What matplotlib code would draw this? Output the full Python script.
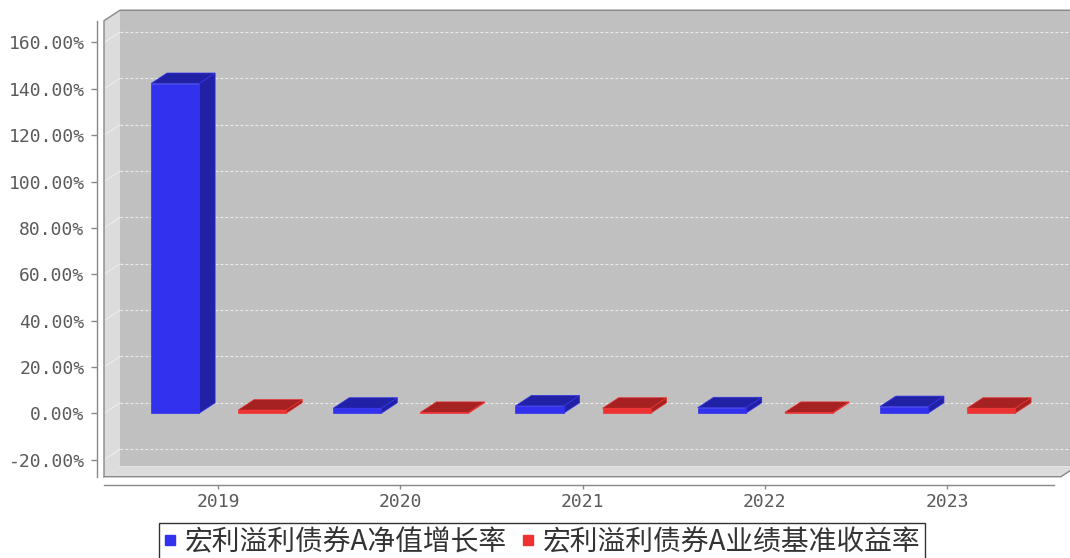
import matplotlib
matplotlib.use("Agg")
import matplotlib.pyplot as plt
from matplotlib.patches import Polygon
from matplotlib.lines import Line2D

# ---------------------------------------------------------------------------
# Data
# ---------------------------------------------------------------------------
years        = ["2019", "2020", "2021", "2022", "2023"]
nav_growth   = [142.3, 2.2, 3.2, 2.4, 2.9]     # 净值增长率 (%)
benchmark    = [1.4, 0.4, 2.2, 0.4, 2.2]       # 业绩基准收益率 (%)
series_names = ["宏利溢利债券A净值增长率", "宏利溢利债券A业绩基准收益率"]
y_ticks      = [-20, 0, 20, 40, 60, 80, 100, 120, 140, 160]

# ---------------------------------------------------------------------------
# Layout / style
# ---------------------------------------------------------------------------
FIG_W, FIG_H = 1070, 558
DPI          = 100
DEPTH_X      = 16      # px, 3D depth offset
DEPTH_Y      = 10.5
X_LIM        = (-0.626, 4.626)
Y_LIM        = (-27.35, 169.4)
BAR_W        = 0.264
BAR_OFFSETS  = [-0.368, 0.110]

BLUE_FRONT, BLUE_DARK = "#3232ee", "#2121a6"
RED_FRONT,  RED_DARK  = "#ee3232", "#a62121"
PANEL    = "#c0c0c0"
WALL     = "#dcdcdc"
OUTLINE  = "#888888"
TEXT_COL = "#5a5a5a"

fig = plt.figure(figsize=(FIG_W / DPI, FIG_H / DPI), dpi=DPI)
ax_l, ax_b, ax_w, ax_h = 104, 81.3, 957, 456
ax = fig.add_axes([ax_l / FIG_W, ax_b / FIG_H, ax_w / FIG_W, ax_h / FIG_H])
ax.set_xlim(*X_LIM)
ax.set_ylim(*Y_LIM)
ax.set_facecolor("none")

x0, x1 = X_LIM
y0, y1 = Y_LIM
dx = DEPTH_X * (x1 - x0) / ax_w
dy = DEPTH_Y * (y1 - y0) / ax_h


def poly(pts, fc, ec="none", lw=0.0, z=1):
    p = Polygon(pts, closed=True, facecolor=fc, edgecolor=ec, linewidth=lw,
                zorder=z, clip_on=False)
    ax.add_patch(p)


# back panel, wall, floor
poly([(x0 + dx, y0 + dy), (x1 + dx, y0 + dy), (x1 + dx, y1 + dy), (x0 + dx, y1 + dy)], PANEL, z=0)
poly([(x0, y0), (x0, y1), (x0 + dx, y1 + dy), (x0 + dx, y0 + dy)], WALL, z=1)
poly([(x0, y0), (x1, y0), (x1 + dx, y0 + dy), (x0 + dx, y0 + dy)], WALL, z=1)

# grid lines on the back wall and their trace on the side wall
for v in y_ticks:
    ax.plot([x0 + dx, x1 + dx], [v + dy, v + dy], color="#ececec", lw=0.8,
            ls=(0, (2.5, 2)), zorder=0.5, clip_on=False)
    ax.plot([x0, x0 + dx], [v, v + dy], color="#f2f2f2", lw=0.6,
            zorder=1.2, clip_on=False)

# outline of the box
ax.plot([x0, x0, x0 + dx, x1 + dx], [y0, y1, y1 + dy, y1 + dy],
        color=OUTLINE, lw=1.0, zorder=2, clip_on=False)
ax.plot([x0, x1, x1 + dx], [y0, y0, y0 + dy],
        color=OUTLINE, lw=1.0, zorder=2, clip_on=False)


def bar3d(left, value, front, dark):
    right = left + BAR_W
    edge = dict(ec=front, lw=0.5)
    poly([(right, 0), (right, value), (right + dx, value + dy), (right + dx, dy)], dark, z=3, **edge)
    poly([(left, value), (right, value), (right + dx, value + dy), (left + dx, value + dy)], dark, z=3, **edge)
    poly([(left, 0), (right, 0), (right, value), (left, value)], front, z=4, ec=front, lw=0.5)


for i in range(len(years)):
    bar3d(i + BAR_OFFSETS[0], nav_growth[i], BLUE_FRONT, BLUE_DARK)
    bar3d(i + BAR_OFFSETS[1], benchmark[i], RED_FRONT, RED_DARK)

# axes
ax.set_xticks(range(len(years)), years)
ax.set_yticks(y_ticks, [f"{v:.2f}%" for v in y_ticks])
for side in ("top", "right"):
    ax.spines[side].set_visible(False)
ax.spines["left"].set_position(("outward", 5))
ax.spines["bottom"].set_position(("outward", 6))
ax.spines["bottom"].set_bounds(x0, 4.59)
for side in ("left", "bottom"):
    ax.spines[side].set_color(OUTLINE)
    ax.spines[side].set_linewidth(1.0)
ax.tick_params(direction="out", width=1, color=OUTLINE,
               labelcolor=TEXT_COL, labelsize=13)
ax.tick_params(axis="y", length=4, pad=5)
ax.tick_params(axis="x", length=3, pad=3)
for lbl in ax.get_xticklabels() + ax.get_yticklabels():
    lbl.set_fontfamily("DejaVu Sans Mono")

# legend
handles = [
    Line2D([], [], marker="s", ls="none", markersize=7.5, color=BLUE_FRONT),
    Line2D([], [], marker="s", ls="none", markersize=7.5, color=RED_FRONT),
]
leg = fig.legend(handles, series_names, loc="upper center",
                 bbox_to_anchor=(541.8 / FIG_W, 1 - 522.7 / FIG_H), ncol=2,
                 frameon=True, fancybox=False, edgecolor="black",
                 prop={"family": ["Noto Sans CJK SC", "DejaVu Sans"], "size": 20},
                 handlelength=0.5, handletextpad=0.3, columnspacing=0.5,
                 borderpad=0.15, borderaxespad=0)
leg.get_frame().set_linewidth(1.0)
for t in leg.get_texts():
    t.set_color("#333333")

fig.savefig("out.png", dpi=DPI)
